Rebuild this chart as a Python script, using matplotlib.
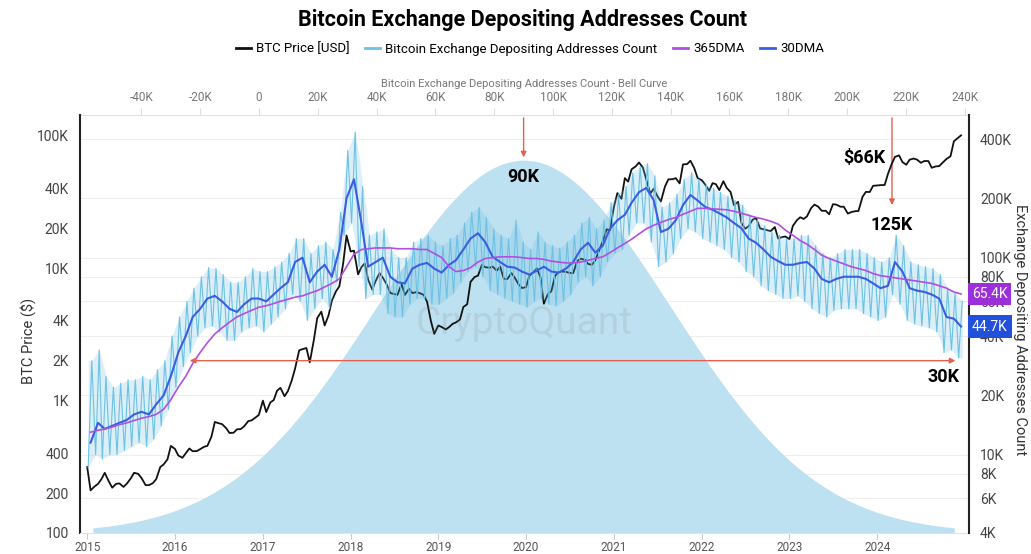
import numpy as np
import pandas as pd
import matplotlib
matplotlib.use('Agg')
import matplotlib.pyplot as plt
import matplotlib.transforms as mtransforms
from matplotlib.ticker import FixedLocator, FixedFormatter, NullLocator
from matplotlib.lines import Line2D

plt.rcParams['font.family'] = ['Roboto', 'DejaVu Sans']

# ---- data ----
# BTC price, 1st and 15th of each month, Jan 2015 .. Dec 2024
btc_price = [
    315, 210, 225, 235, 255, 285, 245, 220, 235, 237, 223, 236, 258, 285, 280, 260, 230, 230, 238, 255, 315, 330, 360, 455,
    432, 385, 370, 400, 435, 415, 416, 430, 448, 455, 535, 690, 675, 665, 620, 570, 572, 607, 610, 640, 700, 710, 745, 780,
    1000, 820, 970, 1010, 1190, 1250, 1080, 1180, 1420, 1750, 2400, 2450, 2500, 1950, 2870, 4200, 4700, 3700, 4400, 5700, 6700, 7300, 10900, 17700,
    13400, 13600, 9000, 10200, 10900, 8200, 6900, 8000, 9200, 8500, 7500, 6500, 6400, 6300, 7600, 6300, 7000, 6500, 6600, 6500, 6300, 5600, 4000, 3200,
    3700, 3600, 3450, 3600, 3800, 3900, 4100, 5100, 5350, 7900, 8600, 8800, 10600, 10200, 10100, 10300, 9600, 10300, 8300, 8300, 9200, 8500, 7550, 7100,
    7200, 8800, 9350, 10000, 8550, 5400, 6400, 6700, 8800, 9300, 9450, 9400, 9230, 9200, 11350, 11800, 11650, 10800, 10620, 11500, 13800, 16000, 19700, 19400,
    29400, 37000, 33500, 48000, 45200, 56000, 58900, 63000, 57800, 47000, 36700, 40000, 35000, 32000, 41500, 47000, 47100, 48000, 43800, 61000, 61300, 65000, 57000, 48000,
    46300, 43000, 38500, 44000, 43200, 39000, 45500, 40500, 37700, 30000, 31800, 22000, 19900, 20800, 23300, 24000, 20000, 19700, 19400, 19100, 20500, 16800, 17200, 17400,
    16600, 20900, 23100, 24300, 23600, 24700, 28500, 30300, 29200, 27200, 27200, 25600, 30500, 30300, 29200, 29200, 25900, 26600, 27000, 27100, 34700, 37800, 37700, 42000,
    42300, 42500, 42600, 51800, 61200, 69500, 71300, 63500, 60600, 66200, 67500, 66200, 62700, 64700, 64600, 57500, 58900, 59200, 63300, 67000, 70200, 91000, 96400, 101000,
]

# exchange depositing addresses, monthly, Jan 2015 .. Dec 2024
addr_30dma = [
    11500, 14500, 13500, 14000, 14500, 15000, 16000, 16500, 16000, 18000, 20000, 25000,
    33000, 40000, 50000, 55000, 62000, 64000, 60000, 55000, 53000, 58000, 62000, 62000,
    60000, 65000, 70000, 75000, 95000, 100000, 75000, 85000, 92000, 80000, 110000, 200000,
    250000, 150000, 90000, 95000, 100000, 80000, 75000, 74000, 88000, 92000, 94000, 88000,
    84000, 92000, 97000, 110000, 125000, 133000, 120000, 101000, 95000, 90000, 89000, 85000,
    82000, 86000, 90000, 85000, 84000, 88000, 95000, 110000, 119000, 106000, 115000, 140000,
    155000, 165000, 190000, 215000, 226000, 196000, 135000, 140000, 155000, 185000, 208000, 195000,
    181000, 175000, 168000, 160000, 150000, 141000, 125000, 119000, 110000, 101000, 96000, 92000,
    92000, 94000, 95000, 88000, 78000, 75000, 78000, 80000, 80000, 80000, 78000, 74000,
    70000, 72000, 95000, 85000, 70000, 68000, 67000, 65000, 62000, 50000, 49000, 44700,
]
addr_365dma = [
    13000, 13300, 13500, 13800, 14200, 14500, 14900, 15300, 15600, 16000, 17000, 19000,
    22000, 25000, 29000, 33000, 37000, 41000, 44000, 47000, 50000, 52000, 54000, 56000,
    57000, 58500, 60000, 61500, 63000, 64000, 66000, 68000, 71000, 74000, 78000, 90000,
    104000, 110000, 111000, 112000, 112000, 112000, 111000, 111000, 111000, 110000, 110000, 105000,
    100000, 90000, 85000, 86000, 89000, 95000, 99000, 100000, 101000, 101000, 101000, 100000,
    99000, 99000, 98000, 96000, 95000, 94000, 94000, 95000, 97000, 99000, 101000, 106000,
    112000, 118000, 124000, 132000, 140000, 146000, 151000, 156000, 160000, 166000, 172000, 178000,
    178000, 177000, 176000, 175000, 172000, 168000, 164000, 160000, 157000, 153000, 148000, 138000,
    130000, 122000, 117000, 110000, 103000, 99000, 96000, 93000, 90000, 88000, 86000, 83000,
    81000, 80000, 79000, 78000, 77000, 76000, 75000, 74000, 72000, 70000, 67000, 65400,
]
addr_hi = [
    30000, 34000, 25000, 22000, 23000, 24000, 24000, 25000, 24000, 27000, 30000, 40000,
    50000, 60000, 70000, 80000, 89000, 88000, 82000, 75000, 75000, 80000, 88000, 85000,
    85000, 90000, 95000, 105000, 125000, 125000, 105000, 115000, 120000, 110000, 170000, 350000,
    434000, 230000, 130000, 135000, 140000, 110000, 100000, 100000, 120000, 125000, 130000, 120000,
    115000, 125000, 130000, 150000, 170000, 180000, 160000, 140000, 130000, 125000, 155000, 120000,
    110000, 135000, 120000, 115000, 112000, 120000, 130000, 150000, 160000, 140000, 155000, 190000,
    210000, 230000, 270000, 290000, 300000, 260000, 180000, 190000, 210000, 250000, 270000, 250000,
    235000, 225000, 215000, 205000, 195000, 185000, 165000, 155000, 145000, 135000, 130000, 125000,
    125000, 130000, 130000, 115000, 105000, 100000, 105000, 110000, 110000, 110000, 105000, 100000,
    95000, 100000, 130000, 115000, 95000, 92000, 90000, 88000, 82000, 70000, 66000, 60000,
]
addr_lo = [
    8600, 10000, 9500, 10000, 10000, 10500, 11000, 11500, 11000, 12000, 14000, 17000,
    22000, 28000, 33000, 40000, 44000, 45000, 42000, 38000, 38000, 42000, 44000, 45000,
    42000, 46000, 50000, 55000, 65000, 60000, 48000, 55000, 62000, 55000, 75000, 130000,
    150000, 90000, 62000, 65000, 65000, 52000, 50000, 50000, 58000, 62000, 62000, 58000,
    58000, 62000, 66000, 75000, 85000, 90000, 80000, 68000, 65000, 62000, 60000, 58000,
    56000, 60000, 62000, 58000, 57000, 60000, 65000, 75000, 80000, 72000, 80000, 95000,
    105000, 110000, 130000, 150000, 150000, 120000, 90000, 95000, 105000, 125000, 140000, 135000,
    125000, 120000, 115000, 110000, 100000, 95000, 85000, 80000, 72000, 68000, 65000, 62000,
    62000, 64000, 60000, 55000, 52000, 50000, 54000, 55000, 55000, 55000, 52000, 50000,
    48000, 50000, 65000, 58000, 48000, 46000, 45000, 44000, 42000, 33000, 34000, 31000,
]

# bell curve of the address count
bell_mean = 90000
bell_std = 50000
bell_range = (-56500, 236500)

left_ticks = [100, 200, 400, 1000, 2000, 4000, 10000, 20000, 40000, 100000]
left_labels = ['100', '200', '400', '1K', '2K', '4K', '10K', '20K', '40K', '100K']
right_ticks = [4000, 6000, 8000, 10000, 20000, 40000, 60000, 80000, 100000, 200000, 400000]
right_labels = ['4K', '6K', '8K', '10K', '20K', '40K', '60K', '80K', '100K', '200K', '400K']
top_ticks = list(range(-40000, 240001, 20000))
top_labels = [f'{t // 1000}K' if t != 0 else '0' for t in top_ticks]
years = list(range(2015, 2025))

# ---- dates ----
half_month = pd.date_range('2015-01-01', '2024-12-15', freq='SMS')
months = pd.date_range('2015-01-01', periods=120, freq='MS')
mid = months + pd.Timedelta(days=14)
lo_dates = (months + pd.Timedelta(days=4)).values
hi_dates = (months + pd.Timedelta(days=19)).values
zz_dates = np.empty(240, dtype='datetime64[ns]')
zz_dates[0::2] = lo_dates
zz_dates[1::2] = hi_dates
zz_vals = np.empty(240)
zz_vals[0::2] = addr_lo
zz_vals[1::2] = addr_hi

c_black = '#111111'
c_light = '#6ec1e4'
c_purple = '#b14fe0'
c_blue = '#3a5ee0'
c_bell = '#bde1f1'
c_red = '#e4604c'
c_tick = '#444444'

fig = plt.figure(figsize=(10.31, 5.54), dpi=100)
pos = [80 / 1031, 21 / 554, 889 / 1031, 418 / 554]

# grid (follows right axis)
ax_grid = fig.add_axes(pos)
ax_grid.set_yscale('log')
ax_grid.set_ylim(4000, 530000)
ax_grid.yaxis.set_major_locator(FixedLocator(right_ticks))
ax_grid.yaxis.set_minor_locator(NullLocator())
ax_grid.grid(axis='y', color='#efefef', lw=0.8)
ax_grid.set_xticks([])
ax_grid.tick_params(left=False, labelleft=False)
for s in ax_grid.spines.values():
    s.set_visible(False)

# bell curve on top axis
ax_bell = fig.add_axes(pos, facecolor='none')
xb = np.linspace(bell_range[0], bell_range[1], 400)
yb = np.exp(-0.5 * ((xb - bell_mean) / bell_std) ** 2)
ax_bell.fill_between(xb, 0, yb, color=c_bell, lw=0)
ax_bell.set_xlim(-60900, 241500)
ax_bell.set_ylim(0, 1 / 0.892)
ax_bell.xaxis.tick_top()
ax_bell.xaxis.set_label_position('top')
ax_bell.set_xticks(top_ticks)
ax_bell.set_xticklabels(top_labels)
ax_bell.tick_params(axis='x', top=True, bottom=False, length=5, color='#dddddd',
                    labelsize=8.5, labelcolor='#777777', pad=3)
ax_bell.set_xlabel('Bitcoin Exchange Depositing Addresses Count - Bell Curve',
                   fontsize=8, color='#777777', labelpad=3)
ax_bell.set_yticks([])
for k in ['left', 'right', 'bottom']:
    ax_bell.spines[k].set_visible(False)
ax_bell.spines['top'].set_color('#e2e2e2')

ax_bell.annotate('', xy=(bell_mean, 1.0), xytext=(bell_mean, 1 / 0.892),
                 arrowprops=dict(arrowstyle='-|>', color=c_red, lw=1, mutation_scale=8))
ax_bell.text(bell_mean, 0.955, '90K', ha='center', va='center', fontsize=13, fontweight='bold')
ax_bell.annotate('', xy=(215300, 0.778), xycoords=('data', 'axes fraction'),
                 xytext=(215300, 1.0), textcoords=('data', 'axes fraction'),
                 arrowprops=dict(arrowstyle='-|>', color=c_red, lw=1, mutation_scale=8))
ax_bell.text(215300, 0.737, '125K', transform=ax_bell.get_xaxis_transform(),
             ha='center', va='center', fontsize=13, fontweight='bold')

# BTC price, left axis
ax = fig.add_axes(pos, facecolor='none')
ax.plot(half_month, btc_price, color=c_black, lw=1.3)
ax.set_yscale('log')
ax.set_ylim(100, 144000)
ax.yaxis.set_major_locator(FixedLocator(left_ticks))
ax.yaxis.set_major_formatter(FixedFormatter(left_labels))
ax.yaxis.set_minor_locator(NullLocator())
ax.tick_params(axis='y', length=0, labelsize=10, labelcolor=c_tick, pad=8)
ax.set_xlim(pd.Timestamp('2014-12-02'), pd.Timestamp('2025-01-17'))
ax.set_xticks([pd.Timestamp(f'{y}-01-01') for y in years])
ax.set_xticklabels([str(y) for y in years])
ax.tick_params(axis='x', length=4, color='#cccccc', labelsize=8.5, labelcolor='#555555', pad=2)
ax.spines['left'].set_linewidth(1.5)
ax.spines['left'].set_color('#222222')
ax.spines['bottom'].set_color('#e2e2e2')
ax.spines['top'].set_visible(False)
ax.spines['right'].set_visible(False)
ax.text(pd.Timestamp('2024-02-05'), 68000, '$66K', ha='right', va='center',
        fontsize=13, fontweight='bold')

# address counts, right axis
ax_r = ax.twinx()
ax_r.fill_between(zz_dates,
                  np.interp(zz_dates.astype('int64'), lo_dates.astype('int64'), addr_lo),
                  np.interp(zz_dates.astype('int64'), hi_dates.astype('int64'), addr_hi),
                  color=c_light, alpha=0.25, lw=0)
ax_r.plot(zz_dates, zz_vals, color=c_light, lw=0.8)
ax_r.plot(mid, addr_30dma, color=c_blue, lw=1.5)
ax_r.plot(mid, addr_365dma, color=c_purple, lw=1.2)
ax_r.set_yscale('log')
ax_r.set_ylim(4000, 530000)
ax_r.yaxis.set_major_locator(FixedLocator(right_ticks))
ax_r.yaxis.set_major_formatter(FixedFormatter(right_labels))
ax_r.yaxis.set_minor_locator(NullLocator())
ax_r.tick_params(axis='y', length=0, labelsize=10, labelcolor=c_tick, pad=8)
ax_r.spines['right'].set_linewidth(1.5)
ax_r.spines['right'].set_color('#222222')
for k in ['left', 'top', 'bottom']:
    ax_r.spines[k].set_visible(False)

ax_r.annotate('', xy=(pd.Timestamp('2016-02-20'), 30000), xytext=(pd.Timestamp('2024-12-03'), 30000),
              arrowprops=dict(arrowstyle='<|-|>', color=c_red, lw=1, mutation_scale=8))
ax_r.text(pd.Timestamp('2024-12-08'), 24800, '30K', ha='right', va='center',
          fontsize=13, fontweight='bold')

blend = mtransforms.blended_transform_factory(ax_r.transAxes, ax_r.transData)
ax_r.text(1.003, addr_365dma[-1], '65.4K', transform=blend, ha='left', va='center', color='white',
          fontsize=10, zorder=10, bbox=dict(boxstyle='square,pad=0.3', fc='#9b2fd8', ec='none'))
ax_r.text(1.003, addr_30dma[-1], '44.7K', transform=blend, ha='left', va='center', color='white',
          fontsize=10, zorder=10, bbox=dict(boxstyle='square,pad=0.3', fc='#2250da', ec='none'))

# watermark
fig.text(524 / 1031, 1 - 323 / 554, 'CryptoQuant', ha='center', va='center',
         fontsize=28, color='#888888', alpha=0.18)

fig.text(28 / 1031, 1 - 341 / 554, 'BTC Price ($)', rotation=90, ha='center', va='center',
         fontsize=10.5, color='#333333')
fig.text(1020 / 1031, 1 - 330 / 554, 'Exchange Depositing Addresses Count', rotation=270,
         ha='center', va='center', fontsize=10.5, color='#333333')

fig.text(523 / 1031, 1 - 20 / 554, 'Bitcoin Exchange Depositing Addresses Count',
         ha='center', va='center', fontsize=15.5, fontweight='bold')

handles = [Line2D([], [], color=c_black, lw=2), Line2D([], [], color=c_light, lw=2),
           Line2D([], [], color=c_purple, lw=2), Line2D([], [], color=c_blue, lw=2)]
labels = ['BTC Price [USD]', 'Bitcoin Exchange Depositing Addresses Count', '365DMA', '30DMA']
fig.legend(handles, labels, loc='center', bbox_to_anchor=(530 / 1031, 1 - 49 / 554), ncol=4,
           frameon=False, fontsize=9.5, handlelength=1.1, handletextpad=0.4, columnspacing=1.2)

fig.savefig('out.png', dpi=100)
